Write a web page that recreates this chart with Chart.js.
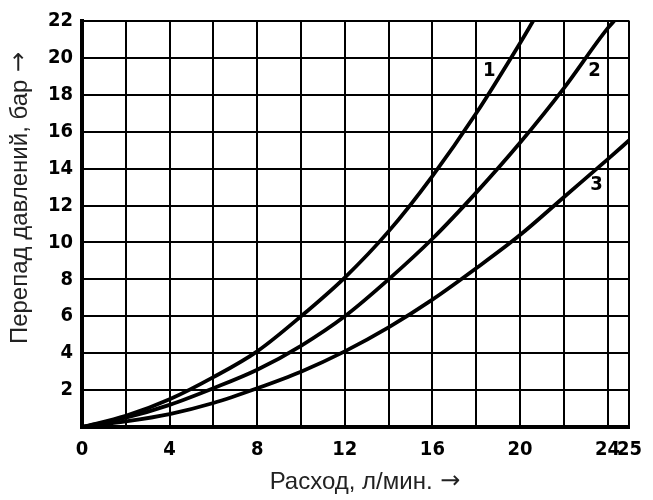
<!DOCTYPE html>
<html lang="ru">
<head>
  <meta charset="UTF-8">
  <title>Перепад давлений</title>
  <style>
    body {
      margin: 0;
      padding: 0;
      background-color: #fff;
    }
    .wrap {
      width: 653px;
      height: 500px;
    }
  </style>
</head>
<body>
  <div class="wrap">
    <canvas id="flowChart" width="653" height="500"></canvas>
  </div>

  <script src="https://cdn.jsdelivr.net/npm/chart.js"></script>
  <script>
    // Values
    const flow1 = [0, 2, 4, 6, 8, 10, 12, 14, 16, 18, 20, 20.6];
    const drop1 = [0, 0.6, 1.5, 2.7, 4.1, 6.0, 8.1, 10.6, 13.6, 17.0, 20.8, 22];

    const flow2 = [0, 2, 4, 6, 8, 10, 12, 14, 16, 18, 20, 22, 24, 24.3];
    const drop2 = [0, 0.5, 1.2, 2.1, 3.1, 4.4, 6.0, 8.0, 10.2, 12.7, 15.4, 18.35, 21.6, 22];

    const flow3 = [0, 2, 4, 6, 8, 10, 12, 14, 16, 18, 20, 22, 24, 25];
    const drop3 = [0, 0.3, 0.7, 1.3, 2.1, 3.0, 4.1, 5.4, 6.9, 8.6, 10.4, 12.45, 14.5, 15.55];

    // grid lines on x, and which of them get a label
    const xGrid = [0, 2, 4, 6, 8, 10, 12, 14, 16, 18, 20, 22, 24, 25];
    const xLabels = [0, 4, 8, 12, 16, 20, 24, 25];

    // curve numbers and where they sit (in data units)
    const curveNames = ['1', '2', '3'];
    const curveNameX = [18.6, 23.4, 23.5];
    const curveNameY = [19.3, 19.3, 13.1];

    const xTitle = 'Расход, л/мин.';
    const yTitle = 'Перепад давлений, бар';
    const arrow = ' →';

    const toPoints = (xs, ys) => xs.map((x, i) => ({ x: x, y: ys[i] }));

    const boldFamily = "'DejaVu Sans Condensed', 'Liberation Sans', sans-serif";
    const tickFont = { family: boldFamily, size: 20, weight: 'bold' };
    const titleFont = "24px 'Liberation Sans', Arial, sans-serif";
    const arrowFont = "24px 'DejaVu Sans', sans-serif";

    // title text plus a long arrow, centred on (0, 0) of the current transform
    function drawTitle(ctx, text) {
      ctx.font = titleFont;
      const w1 = ctx.measureText(text).width;
      ctx.font = arrowFont;
      const w2 = ctx.measureText(arrow).width;
      let x = -(w1 + w2) / 2;
      ctx.font = titleFont;
      ctx.fillText(text, x, 0);
      ctx.font = arrowFont;
      ctx.fillText(arrow, x + w1, 0);
    }

    // draws the curve numbers and both axis titles
    const extraText = {
      id: 'extraText',
      afterDatasetsDraw(chart) {
        const ctx = chart.ctx;
        const xs = chart.scales.x, ys = chart.scales.y;
        ctx.save();
        ctx.fillStyle = '#000';
        ctx.font = 'bold 20px ' + boldFamily;
        ctx.textAlign = 'center';
        ctx.textBaseline = 'middle';
        curveNames.forEach((name, i) => {
          ctx.fillText(name, xs.getPixelForValue(curveNameX[i]), ys.getPixelForValue(curveNameY[i]));
        });
        ctx.restore();

        ctx.save();
        ctx.fillStyle = '#222';
        ctx.textAlign = 'left';
        ctx.textBaseline = 'middle';
        ctx.save();
        ctx.translate(365, 482);
        drawTitle(ctx, xTitle);
        ctx.restore();
        ctx.translate(20, 198);
        ctx.rotate(-Math.PI / 2);
        drawTitle(ctx, yTitle);
        ctx.restore();
      }
    };

    const lineStyle = {
      showLine: true,
      borderColor: '#000',
      borderWidth: 3.8,
      pointRadius: 0,
      cubicInterpolationMode: 'monotone',
      fill: false
    };

    new Chart(document.getElementById('flowChart').getContext('2d'), {
      type: 'scatter',
      data: {
        datasets: [
          Object.assign({ label: '1', data: toPoints(flow1, drop1) }, lineStyle),
          Object.assign({ label: '2', data: toPoints(flow2, drop2) }, lineStyle),
          Object.assign({ label: '3', data: toPoints(flow3, drop3) }, lineStyle)
        ]
      },
      options: {
        responsive: false,
        animation: false,
        layout: { padding: { left: 0, right: 17, top: 17, bottom: 0 } },
        plugins: {
          legend: { display: false },
          tooltip: { enabled: false }
        },
        scales: {
          x: {
            type: 'linear',
            min: 0,
            max: 25,
            afterBuildTicks: s => { s.ticks = xGrid.map(v => ({ value: v })); },
            afterFit: s => { s.height = 73; },
            grid: { color: '#000', lineWidth: 2, drawTicks: false },
            border: { color: '#000', width: 4 },
            ticks: {
              autoSkip: false,
              maxRotation: 0,
              padding: 11,
              color: '#000',
              font: tickFont,
              callback: v => xLabels.includes(v) ? String(v) : ''
            }
          },
          y: {
            type: 'linear',
            min: 0,
            max: 22,
            afterFit: s => { s.width = 82; },
            grid: { color: '#000', lineWidth: 2, drawTicks: false },
            border: { color: '#000', width: 4 },
            ticks: {
              stepSize: 2,
              padding: 9,
              color: '#000',
              font: tickFont,
              callback: v => v === 0 ? '' : String(v)
            }
          }
        }
      },
      plugins: [extraText]
    });
  </script>
</body>
</html>
